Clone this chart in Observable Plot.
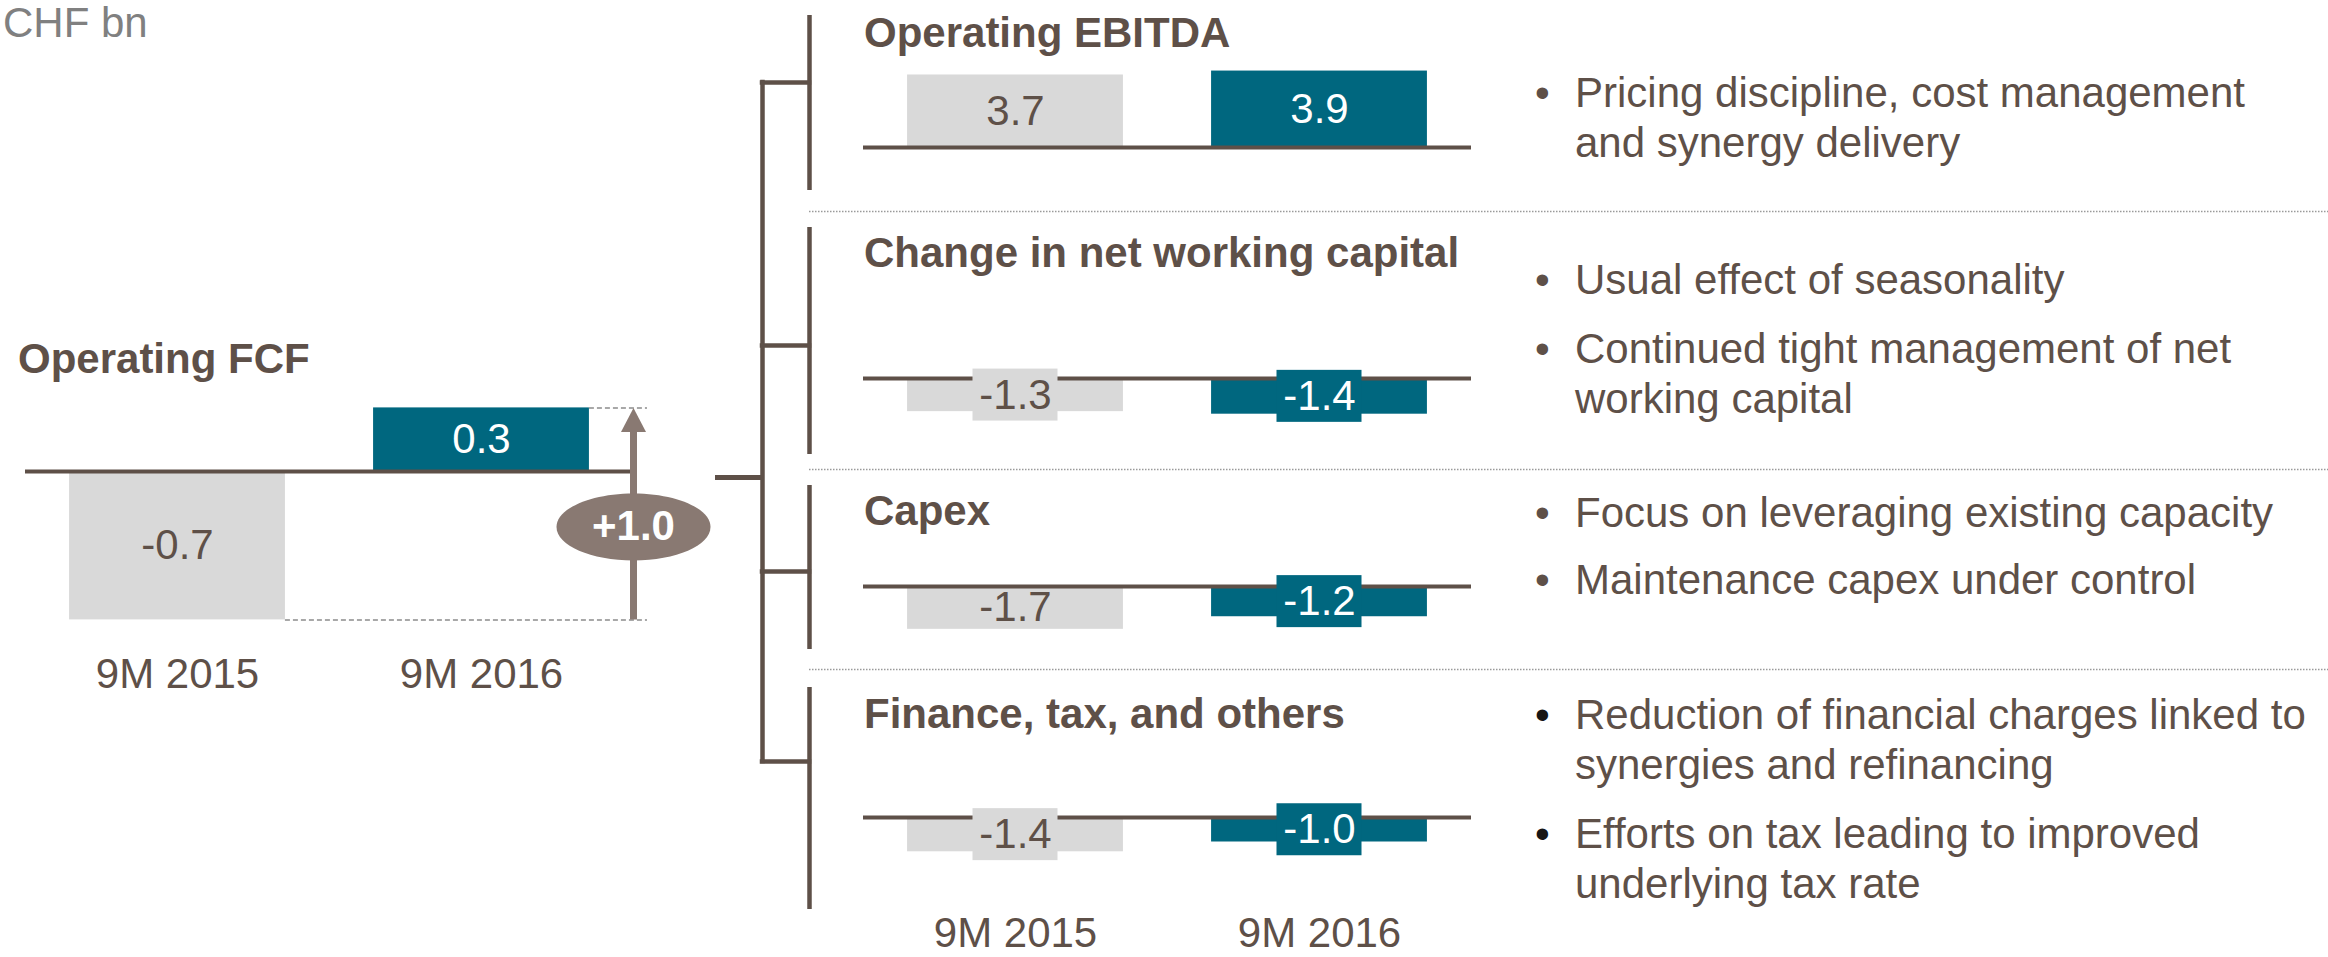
<!DOCTYPE html>
<html>
<head>
<meta charset="utf-8">
<script src="https://cdn.jsdelivr.net/npm/d3@7"></script>
<script src="https://cdn.jsdelivr.net/npm/@observablehq/plot@0.6"></script>
<style>
  html, body { margin: 0; padding: 0; background: #ffffff; }
  #chart { position: relative; width: 2328px; height: 957px; overflow: hidden;
           font-family: "Liberation Sans", Arial, Helvetica, sans-serif; }
  #chart svg { position: absolute; left: 0; top: 0; }
  .t { position: absolute; white-space: pre; font-size: 42px; line-height: 50px; color: #5e5048; }
</style>
</head>
<body>
<div id="chart"></div>
<script>
// ---------------- DATA ----------------
const unitLabel = "CHF bn";
const periods = ["9M 2015", "9M 2016"];
const fcfLabel = "Operating FCF";
const fcfValues = [-0.7, 0.3];
const componentLabels = ["Operating EBITDA", "Change in net working capital", "Capex", "Finance, tax, and others"];
const ebitdaValues = [3.7, 3.9];
const nwcValues = [-1.3, -1.4];
const capexValues = [-1.7, -1.2];
const financeValues = [-1.4, -1.0];
const ebitdaComments = ["Pricing discipline, cost management\nand synergy delivery"];
const nwcComments = ["Usual effect of seasonality", "Continued tight management of net\nworking capital"];
const capexComments = ["Focus on leveraging existing capacity", "Maintenance capex under control"];
const financeComments = ["Reduction of financial charges linked to\nsynergies and refinancing", "Efforts on tax leading to improved\nunderlying tax rate"];

// ---------------- STYLE / LAYOUT ----------------
const W = 2328, H = 957;
const FONT = '"Liberation Sans", Arial, Helvetica, sans-serif';
const BROWN = "#5e5048", GREY = "#d9d9d9", TEAL = "#00677f", TAUPE = "#897972", UNIT_GREY = "#808080";
const FS = 42;
const PAD = 0.145;            // bar inset inside its slot (fraction of slot)
const BOX_W = 85, BOX_H = 52; // label box for thin bars
const fillOf = p => p === periods[0] ? GREY : TEAL;
const inkOf = p => p === periods[0] ? BROWN : "#ffffff";

const leftPanel = {frameLeft: 25, frameRight: 633, zeroY: 471, pxPerUnit: 212, axisBaseline: 687};
const rightFrame = {frameLeft: 863, frameRight: 1471};
const sections = [
  {label: componentLabels[0], values: ebitdaValues, comments: ebitdaComments, zeroY: 147, pxPerUnit: 19.6,
   titleBaseline: 47.5, commentBaselines: [108], line: [15, 190], joinY: 82, bulletColor: BROWN},
  {label: componentLabels[1], values: nwcValues, comments: nwcComments, zeroY: 378, pxPerUnit: 25.5,
   titleBaseline: 268, commentBaselines: [295, 364], line: [227, 454], joinY: 345, bulletColor: BROWN},
  {label: componentLabels[2], values: capexValues, comments: capexComments, zeroY: 586, pxPerUnit: 25.2,
   titleBaseline: 526, commentBaselines: [528, 595], line: [485, 649], joinY: 571, bulletColor: BROWN},
  {label: componentLabels[3], values: financeValues, comments: financeComments, zeroY: 817, pxPerUnit: 24.5,
   titleBaseline: 729, commentBaselines: [730, 849], line: [687, 909], joinY: 761, bulletColor: "#161616"}
];
const bottomAxisBaseline = 946;
const separatorYs = [211, 469, 669];
const sectionLineX = 809, bracketX = 762, stubY = 477, stubX = 715;
const bulletX = 1535, commentX = 1575, titleX = 864;

// custom symbols
const ellipseSymbol = (rx, ry) => ({
  draw(ctx) {
    const k = 0.5522847;
    ctx.moveTo(rx, 0);
    ctx.bezierCurveTo(rx, ry * k, rx * k, ry, 0, ry);
    ctx.bezierCurveTo(-rx * k, ry, -rx, ry * k, -rx, 0);
    ctx.bezierCurveTo(-rx, -ry * k, -rx * k, -ry, 0, -ry);
    ctx.bezierCurveTo(rx * k, -ry, rx, -ry * k, rx, 0);
    ctx.closePath();
  }
});
const arrowHead = {
  draw(ctx) { ctx.moveTo(0, 0); ctx.lineTo(12.5, 24); ctx.lineTo(-12.5, 24); ctx.closePath(); }
};

const rows = values => values.map((v, i) => ({period: periods[i], slot: i, value: v}));

function barPanel({values, frameLeft, frameRight, zeroY, pxPerUnit, axisBaseline = null, extra = []}) {
  const data = rows(values);
  const lo = Math.min(0, d3.min(values)), hi = Math.max(0, d3.max(values));
  const marginTop = zeroY - hi * pxPerUnit;
  const frameBottom = zeroY - lo * pxPerUnit;
  const marginBottom = H - frameBottom;
  const thin = data.filter(d => Math.abs(d.value) * pxPerUnit < 40);
  const marks = [
    Plot.rect(data, {x1: d => d.slot + PAD, x2: d => d.slot + 1 - PAD, y1: 0, y2: "value",
                     fill: d => fillOf(d.period), inset: 0}),
    Plot.ruleY([0], {stroke: BROWN, strokeWidth: 4}),
    Plot.rect(thin, {x1: d => d.slot + 0.5, x2: d => d.slot + 0.5, y1: d => d.value / 2, y2: d => d.value / 2,
                     insetLeft: -BOX_W / 2, insetRight: -BOX_W / 2, insetTop: -BOX_H / 2, insetBottom: -BOX_H / 2,
                     fill: d => fillOf(d.period)}),
    Plot.text(data, {x: d => d.slot + 0.5, y: d => d.value / 2, text: d => d.value.toFixed(1),
                     fill: d => inkOf(d.period), fontSize: FS}),
    ...extra
  ];
  const xOpts = {domain: [0, periods.length]};
  if (axisBaseline != null) {
    marks.push(Plot.axisX({ticks: periods.map((p, i) => i + 0.5), tickFormat: t => periods[Math.floor(t)],
      tickSize: 0, tickPadding: axisBaseline - 0.71 * FS - frameBottom, fontSize: FS, label: null,
      anchor: "bottom", fill: BROWN}));
  } else {
    xOpts.axis = null;
  }
  return Plot.plot({
    width: W, height: H, marginLeft: frameLeft, marginRight: W - frameRight, marginTop, marginBottom,
    style: {background: "transparent", fontFamily: FONT, fontSize: FS + "px", color: BROWN},
    x: xOpts,
    y: {domain: [lo, hi], axis: null},
    color: {type: "identity"},
    marks
  });
}

const chart = document.getElementById("chart");

// ---------- left panel: Operating FCF ----------
const n = periods.length;
const fcfRows = rows(fcfValues);
const fcfChange = [{from: fcfValues[0], to: fcfValues[n - 1], delta: fcfValues[n - 1] - fcfValues[0]}];
const EXT = 0.046;
chart.append(barPanel({
  values: fcfValues, ...leftPanel,
  extra: [
    Plot.ruleY(fcfRows, {y: "value", x1: d => d.slot + 1 - PAD, x2: n + EXT,
                         stroke: "#8c8c8c", strokeWidth: 1.5, strokeDasharray: "5,3"}),
    // y1 = top end (arrow tip), y2 = bottom end; inset keeps the shaft under the head
    Plot.ruleX(fcfChange, {x: n, y1: "to", y2: "from", stroke: TAUPE, strokeWidth: 7, insetTop: 20}),
    Plot.dot(fcfChange, {x: n, y: "to", symbol: arrowHead, fill: TAUPE, stroke: "none"}),
    Plot.dot(fcfChange, {x: n, y: d => (d.from + d.to) / 2, dy: 13, symbol: ellipseSymbol(77, 33.5),
                         fill: TAUPE, stroke: "none"}),
    Plot.text(fcfChange, {x: n, y: d => (d.from + d.to) / 2, dy: 13, text: d => "+" + d.delta.toFixed(1),
                          fill: "#ffffff", fontWeight: "bold", fontSize: FS})
  ]
}));

// ---------- right panels ----------
sections.forEach((s, i) => {
  chart.append(barPanel({
    values: s.values, ...rightFrame, zeroY: s.zeroY, pxPerUnit: s.pxPerUnit,
    axisBaseline: i === sections.length - 1 ? bottomAxisBaseline : null
  }));
});

// ---------- bracket & separators ----------
chart.append(Plot.plot({
  width: W, height: H, margin: 0,
  x: {type: "identity", axis: null}, y: {type: "identity", axis: null},
  style: {background: "transparent"},
  marks: [
    Plot.ruleY(separatorYs, {y: d => d, x1: sectionLineX, x2: W, stroke: "#9a9a9a", strokeWidth: 1.5,
                             strokeDasharray: "1.5,1.5"}),
    Plot.ruleX(sections, {x: sectionLineX, y1: d => d.line[0], y2: d => d.line[1], stroke: BROWN, strokeWidth: 4.5}),
    Plot.ruleY(sections, {y: "joinY", x1: bracketX, x2: sectionLineX, stroke: BROWN, strokeWidth: 4.5, strokeLinecap: "square"}),
    Plot.ruleX([sections], {x: bracketX, y1: d => d[0].joinY, y2: d => d[d.length - 1].joinY, stroke: BROWN,
                            strokeWidth: 4.5, strokeLinecap: "square"}),
    Plot.ruleY([stubY], {y: d => d, x1: stubX, x2: bracketX, stroke: BROWN, strokeWidth: 5})
  ]
}));

// ---------- texts ----------
const BASE_OFF = (50 - 1.117 * FS) / 2 + 0.905 * FS;
function addText(str, left, baseline, {bold = false, color = BROWN} = {}) {
  const el = document.createElement("div");
  el.className = "t";
  el.textContent = str;
  el.style.left = left + "px";
  el.style.top = (baseline - BASE_OFF) + "px";
  el.style.color = color;
  if (bold) el.style.fontWeight = "bold";
  chart.append(el);
}
addText(unitLabel, 3, 38, {color: UNIT_GREY});
addText(fcfLabel, 18, 374, {bold: true});
sections.forEach(s => {
  addText(s.label, titleX, s.titleBaseline, {bold: true});
  s.comments.forEach((c, j) => {
    addText("\u2022", bulletX, s.commentBaselines[j], {color: s.bulletColor});
    addText(c, commentX, s.commentBaselines[j]);
  });
});
</script>
</body>
</html>
